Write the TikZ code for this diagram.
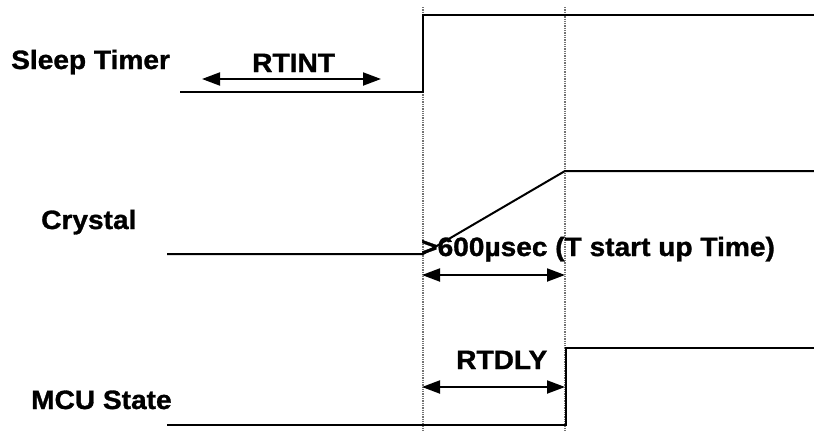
\documentclass[tikz,border=0pt]{standalone}
\usepackage{fontspec}
\newfontfamily\labfont{Liberation Sans}[FakeStretch=1.06,BoldFeatures={FakeBold=1.2}]
\usetikzlibrary{arrows.meta}
\tikzset{
  lab/.style={inner sep=0pt, anchor=base west, font=\labfont\bfseries\fontsize{26.5}{30}\selectfont},
  wave/.style={line width=2pt, line join=miter},
  span/.style={line width=2pt, {Triangle[length=18pt,width=13pt]}-{Triangle[length=18pt,width=13pt]}},
  guide/.style={line width=1.3pt, densely dotted, black!55}
}
\begin{document}
\begin{tikzpicture}[x=1pt,y=-1pt]
\useasboundingbox (0,0) rectangle (814,431);
% guides
\coordinate (g1t) at (423,7); \coordinate (g1b) at (423,431);
\coordinate (g2t) at (565,7); \coordinate (g2b) at (565,431);
\draw[guide] (g1t) -- (g1b);
\draw[guide] (g2t) -- (g2b);
% labels
\node[lab] (st) at (11,69) {Sleep Timer};
\node[lab] (cr) at (41,229) {Crystal};
\node[lab] (mcu) at (31,409) {MCU State};
\node[lab] (rtint) at (252,72) {RTINT};
\node[lab] (rtdly) at (456,369) {RTDLY};
\node[lab] (tsu) at (421,256) {>600µsec (T start up Time)};
% sleep timer waveform
\coordinate (s0) at (180,92); \coordinate (s1) at (423,92);
\coordinate (s2) at (423,15); \coordinate (s3) at (814,15);
\draw[wave] (s0) -- (s1) -- (s2) -- (s3);
% crystal waveform
\coordinate (c0) at (167,254); \coordinate (c1) at (423,254);
\coordinate (c2) at (565,171); \coordinate (c3) at (814,171);
\draw[wave] (c0) -- (c1) -- (c2) -- (c3);
% mcu waveform
\coordinate (m0) at (167,425); \coordinate (m1) at (566,425);
\coordinate (m2) at (566,348); \coordinate (m3) at (814,348);
\draw[wave] (m0) -- (m1) -- (m2) -- (m3);
% spans
\coordinate (a1) at (202,79); \coordinate (a2) at (381,79);
\draw[span] (a1) -- (a2);
\coordinate (b1) at (422,275); \coordinate (b2) at (565,275);
\draw[span] (b1) -- (b2);
\coordinate (d1) at (422,387); \coordinate (d2) at (565,387);
\draw[span] (d1) -- (d2);
\end{tikzpicture}
\end{document}
